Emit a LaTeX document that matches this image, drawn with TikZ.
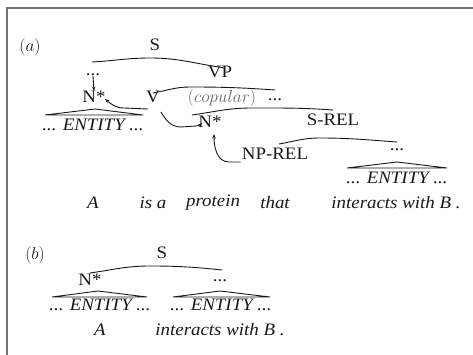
\documentclass[tikz,border=0pt]{standalone}
\usepackage{fontspec}
\setmainfont{Liberation Serif}[FakeStretch=1.08]
\usetikzlibrary{arrows.meta}
\tikzset{
  lbl/.style={inner sep=0pt, font=\fontsize{17.5}{17.5}\selectfont, text=black!90},
  wd/.style={lbl, font=\fontsize{17.5}{17.5}\selectfont\itshape},
  roof/.style={line width=0.9pt, black!90},
  arr/.style={line width=0.9pt, black!90, -{Stealth[length=4.5pt,width=3.5pt]}},
  frame/.style={line width=1.6pt, black!55}
}
\begin{document}
\begin{tikzpicture}[x=1pt,y=-1pt]
\useasboundingbox (0,0) rectangle (473,355);
\draw[frame] (7,356) -- (7,8) -- (474,8);

% ---------- (a)
\node[lbl] (tagA) at (30,47) {$(a)$};
\node[lbl] (Sa) at (155,45) {S};
\node[lbl] (dA) at (93,75) {...};
\node[lbl] (Na) at (94,97) {N*};
\node[lbl] (Va) at (153,97) {V};
\node[lbl] (VPa) at (220,72) {VP};
\node[lbl, text=black!60] (cop) at (222,98) {$(copular)$};
\node[lbl] (dB) at (275,100) {...};
\node[lbl] (N2) at (210,122) {N*};
\node[lbl] (SREL) at (333,120) {S-REL};
\node[lbl] (NPREL) at (275,154) {NP-REL};
\node[lbl] (dC) at (397,150) {...};
\node[wd] (E1) at (93,125) {... ENTITY ...};
\node[wd] (E2) at (397,178) {... ENTITY ...};

\coordinate (sL) at (92,62); \coordinate (sT) at (150,58); \coordinate (sR) at (225,68);
\draw[roof] (sL) to[out=3,in=180] (sT) to[out=0,in=172] (sR);
\coordinate (vL) at (153,93); \coordinate (vT) at (190,87); \coordinate (vR) at (275,90);
\draw[roof] (vL) to[out=10,in=180] (vT) to[out=0,in=176] (vR);
\coordinate (bL) at (192,115); \coordinate (bT) at (252,108); \coordinate (bR) at (333,110);
\draw[roof] (bL) to[out=8,in=180] (bT) to[out=0,in=176] (bR);
\coordinate (rL) at (279,144); \coordinate (rT) at (320,138); \coordinate (rR) at (397,142);
\draw[roof] (rL) to[out=10,in=180] (rT) to[out=0,in=176] (rR);

% entity triangles
\draw[roof] (45,115) -- (143,115) (45,115) -- (95,109) -- (143,115);
\draw[roof] (347,168) -- (447,168) (347,168) -- (397,162) -- (447,168);

% arrows
\draw[arr] (dA.south) -- (Na.north);
\draw[arr] (148,109) -- (124,108) to[out=180,in=-40] (105,99);
\draw[arr] (161,112) to[out=-60,in=180] (181,127) -- (196,126) to[out=0,in=-135] (202,123);
\draw[arr] (NPREL.west) ++(-1,8) -- (229,162) to[out=180,in=-90] (214,134);

% sentence (a)
\node[wd] (wA) at (93,203) {A};
\node[wd] (wisa) at (153,203) {is a};
\node[wd] (wprot) at (213,203) {protein};
\node[wd] (wthat) at (275,203) {that};
\node[wd] (wint) at (396,203) {interacts with B .};

% ---------- (b)
\node[lbl] (tagB) at (35,255) {$(b)$};
\node[lbl] (Sb) at (162,253) {S};
\node[lbl] (Nb) at (90,280) {N*};
\node[lbl] (db) at (220,281) {...};
\coordinate (tL) at (90,273); \coordinate (tT) at (150,266); \coordinate (tR) at (222,270);
\draw[roof] (tL) to[out=8,in=180] (tT) to[out=0,in=174] (tR);
\draw[roof] (52,297) -- (147,297) (52,297) -- (98,291) -- (147,297);
\draw[roof] (173,297) -- (270,297) (173,297) -- (220,291) -- (270,297);
\node[wd] (Eb1) at (100,305) {... ENTITY ...};
\node[wd] (Eb2) at (221,305) {... ENTITY ...};
\node[wd] (wbA) at (100,330) {A};
\node[wd] (wbint) at (220,330) {interacts with B .};
\end{tikzpicture}
\end{document}
